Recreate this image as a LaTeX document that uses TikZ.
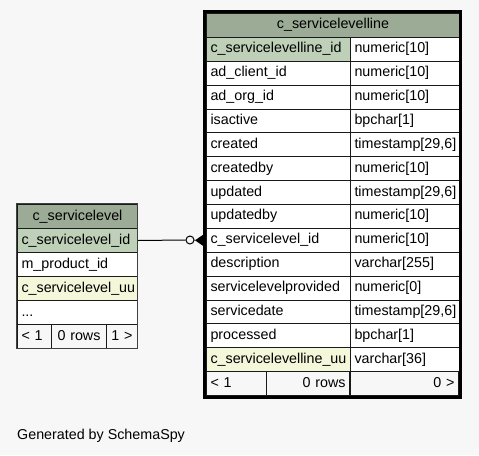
\documentclass[tikz,border=0pt]{standalone}
\usepackage{fontspec}
\setmainfont{Liberation Sans}
\definecolor{bg}{HTML}{F7F7F7}
\definecolor{hdr}{HTML}{9BAB96}
\definecolor{pkc}{HTML}{BED1B8}
\definecolor{uuc}{HTML}{F4F7DA}
\definecolor{ln}{HTML}{1A1A1A}
\tikzset{
  base/.style={rectangle, draw=ln, line width=1pt, anchor=north west, inner sep=0pt,
    inner xsep=4pt, minimum height=#1, text height=10pt, text depth=3pt,
    font=\fontsize{14.3}{16}\selectfont},
  base/.default=23.875pt,
  cl/.style={base, text width=#1pt, align=left},
  cr/.style={base, text width=#1pt, align=right},
  cc/.style={base, text width=#1pt, align=center},
  lcl/.style={cl=#1, minimum height=24pt},
  lcc/.style={cc=#1, minimum height=24pt},
}
\begin{document}
\begin{tikzpicture}[x=1pt,y=-1pt]
\fill[bg] (0,0) rectangle (479,455);
\useasboundingbox (0,0) rectangle (479,455);
% right table
\node[cc=245, fill=hdr] (rh) at (206,13) {c\_servicelevelline};
\foreach \n/\t/\c [count=\i] in {
  c\_servicelevelline\_id/numeric[10]/pkc,
  ad\_client\_id/numeric[10]/white,
  ad\_org\_id/numeric[10]/white,
  isactive/bpchar[1]/white,
  created/timestamp[29{,}6]/white,
  createdby/numeric[10]/white,
  updated/timestamp[29{,}6]/white,
  updatedby/numeric[10]/white,
  c\_servicelevel\_id/numeric[10]/white,
  description/varchar[255]/white,
  servicelevelprovided/numeric[0]/white,
  servicedate/timestamp[29{,}6]/white,
  processed/bpchar[1]/white,
  c\_servicelevelline\_uu/varchar[36]/uuc}{
  \node[cl=136, fill=\c] (n\i) at (206,{13+23.875*\i}) {\n};
  \node[cl=101, fill=white] (t\i) at (350,{13+23.875*\i}) {\t};
}
\node[cl=52, fill=bg] (rf1) at (206,371.125) {< 1};
\node[cr=75, fill=bg] (rf2) at (266,371.125) {0 rows};
\node[cr=100, fill=bg] (rf3) at (350,371.125) {0 >};
\draw[line width=3pt, draw=black] (204.5,11.5) rectangle (460.5,397);
% left table
\node[lcc=112, fill=hdr] (lh) at (17,204) {c\_servicelevel};
\node[lcl=112, fill=pkc] (lsid) at (17,228) {c\_servicelevel\_id};
\node[lcl=112, fill=white] (lpid) at (17,252) {m\_product\_id};
\node[lcl=112, fill=uuc] (luu) at (17,276) {c\_servicelevel\_uu};
\node[lcl=112, fill=white] (ldots) at (17,300) {...};
\node[lcl=26, fill=bg] (lf1) at (17,324) {< 1};
\node[lcc=47, fill=bg] (lf2) at (51,324) {0 rows};
\node[lcc=23, fill=bg] (lf3) at (106,324) {1 >};
\draw[line width=1.5pt, draw=black!75] (16.5,203.5) rectangle (137.5,348.5);
% connector
\node[circle, draw=black, line width=1pt, fill=bg, minimum size=8pt, inner sep=0pt] (odot) at (190,240) {};
\draw[line width=1pt] (lsid.east) -- (odot.west);
\draw[line width=1pt] (odot.east) -- ([xshift=-11pt]n9.west);
\fill[black] ([xshift=-11pt]n9.west) -- ([xshift=-3pt,yshift=5.5pt]n9.west) -- ([xshift=-3pt,yshift=-5.5pt]n9.west) -- cycle;
% footer text
\node[anchor=west, inner sep=0pt, font=\fontsize{14.3}{16}\selectfont] (gen) at (17,436) {Generated by SchemaSpy};
\end{tikzpicture}
\end{document}
